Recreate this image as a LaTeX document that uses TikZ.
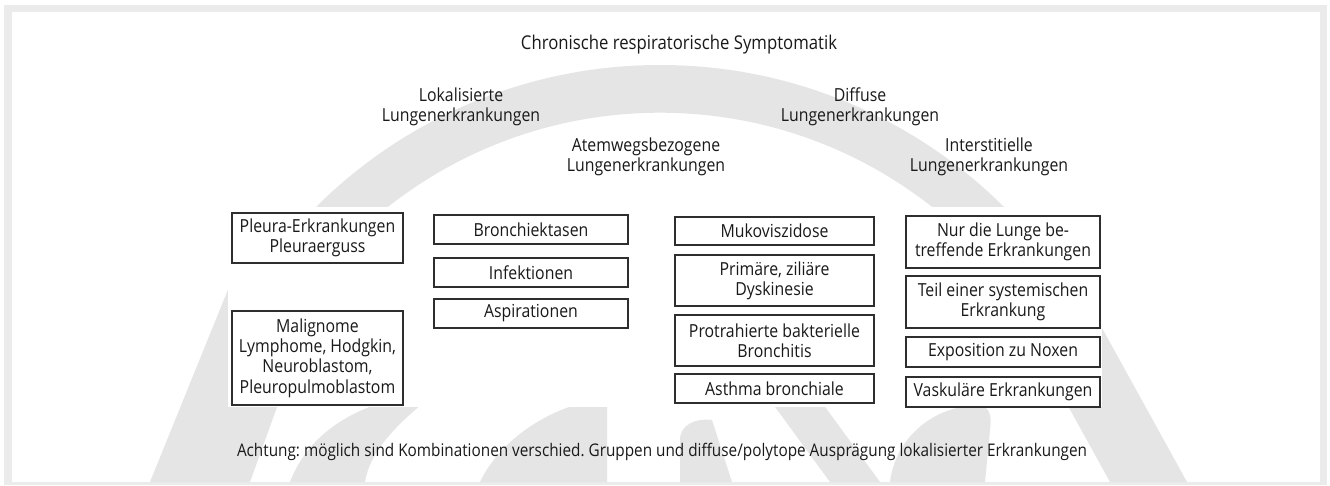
\documentclass[tikz,border=0pt]{standalone}
\usepackage{fontspec}
\setmainfont{Open Sans}[FakeStretch=0.88]
\frenchspacing
\begin{document}
\begin{tikzpicture}[x=1pt,y=-1pt,
  every node/.style={font=\fontsize{18}{20.3}\selectfont, text=black!90},
  lbl/.style={align=center, inner sep=0pt},
  box/.style={draw=black!82, line width=1.8pt, fill=white, align=center, inner sep=0pt},
  wm/.style={fill=wmgrey, draw=none}]
\definecolor{framegrey}{RGB}{235,235,235}
\definecolor{wmgrey}{RGB}{229,229,229}
\useasboundingbox (0,0) rectangle (1330,485);
% frame
\fill[framegrey] (4,5) rectangle (1327,485);
\fill[white] (12,12) rectangle (1320,482);
% watermark
\begin{scope}
  \clip (12,12) rectangle (1320,482);
  \begin{scope}
    \clip (12,12) rectangle (1320,210);
    \fill[wmgrey, even odd rule] (660,552.7) circle (487.7) (660,552.7) circle (440);
  \end{scope}
  \fill[wmgrey] (150,482) -- (250,482) -- (330,260) -- (240,260) -- cycle;
  \fill[wmgrey] (290,482) .. controls (310,430) and (360,400) .. (440,390)
        .. controls (400,420) and (370,450) .. (365,482) -- cycle;
  \fill[wmgrey] (480,482) .. controls (500,440) and (550,405) .. (607,398) -- (607,482) -- cycle;
  \fill[wmgrey] (680,482) -- (680,440) .. controls (680,425) and (695,418) .. (712,420) -- (732,482) -- cycle;
  \fill[wmgrey] (770,400) -- (820,400) -- (880,482) -- (830,482) -- cycle;
  \fill[wmgrey] (890,482) .. controls (895,440) and (930,408) .. (975,405)
        .. controls (990,405) and (992,415) .. (990,430) -- (985,482) -- cycle;
  \fill[wmgrey] (1004,290) -- (1081,290) -- (1187,482) -- (1110,482) -- cycle;
  \fill[white] (228,207) rectangle (1102,407);
\end{scope}
% headings
\node[lbl, font=\fontsize{19}{21}\selectfont] (title) at (679,45) {Chronische respiratorische Symptomatik};
\node[lbl] (lok) at (461,107) {Lokalisierte\\Lungenerkrankungen};
\node[lbl] (dif) at (860,107) {Diffuse\\Lungenerkrankungen};
\node[lbl] (atem) at (646,157) {Atemwegsbezogene\\Lungenerkrankungen};
\node[lbl] (inter) at (989,157) {Interstitielle\\Lungenerkrankungen};
% column 1
\node[box, minimum width=171pt, minimum height=50pt] (pleura) at (317.5,238) {Pleura-Erkrankungen\\Pleuraerguss};
\node[box, minimum width=171pt, minimum height=94pt] (malig) at (317.5,358) {Malignome\\Lymphome, Hodgkin,\\Neuroblastom,\\Pleuropulmoblastom};
% column 2
\node[box, minimum width=194pt, minimum height=29pt] (bron) at (531,229.5) {Bronchiektasen};
\node[box, minimum width=194pt, minimum height=29pt] (infek) at (531,272.5) {Infektionen};
\node[box, minimum width=194pt, minimum height=29pt] (aspir) at (531,313.5) {Aspirationen};
% column 3
\node[box, minimum width=199pt, minimum height=28pt] (muko) at (774.5,231) {Mukoviszidose};
\node[box, minimum width=199pt, minimum height=51pt] (prim) at (774.5,280.5) {Primäre, ziliäre\\Dyskinesie};
\node[box, minimum width=199pt, minimum height=51pt] (prot) at (774.5,340.5) {Protrahierte bakterielle\\Bronchitis};
\node[box, minimum width=199pt, minimum height=29pt] (asth) at (774.5,388.5) {Asthma bronchiale};
% column 4
\node[box, minimum width=194pt, minimum height=52pt] (nur) at (1003,242) {Nur die Lunge be-\\treffende Erkrankungen};
\node[box, minimum width=194pt, minimum height=52pt] (teil) at (1003,302) {Teil einer systemischen\\Erkrankung};
\node[box, minimum width=194pt, minimum height=30pt] (expo) at (1003,352) {Exposition zu Noxen};
\node[box, minimum width=194pt, minimum height=30pt] (vask) at (1003,392) {Vaskuläre Erkrankungen};
% footnote
\node[lbl, font=\fontsize{17.4}{20}\selectfont] (note) at (662,452) {Achtung: möglich sind Kombinationen verschied. Gruppen und diffuse/polytope Ausprägung lokalisierter Erkrankungen};
\end{tikzpicture}
\end{document}
